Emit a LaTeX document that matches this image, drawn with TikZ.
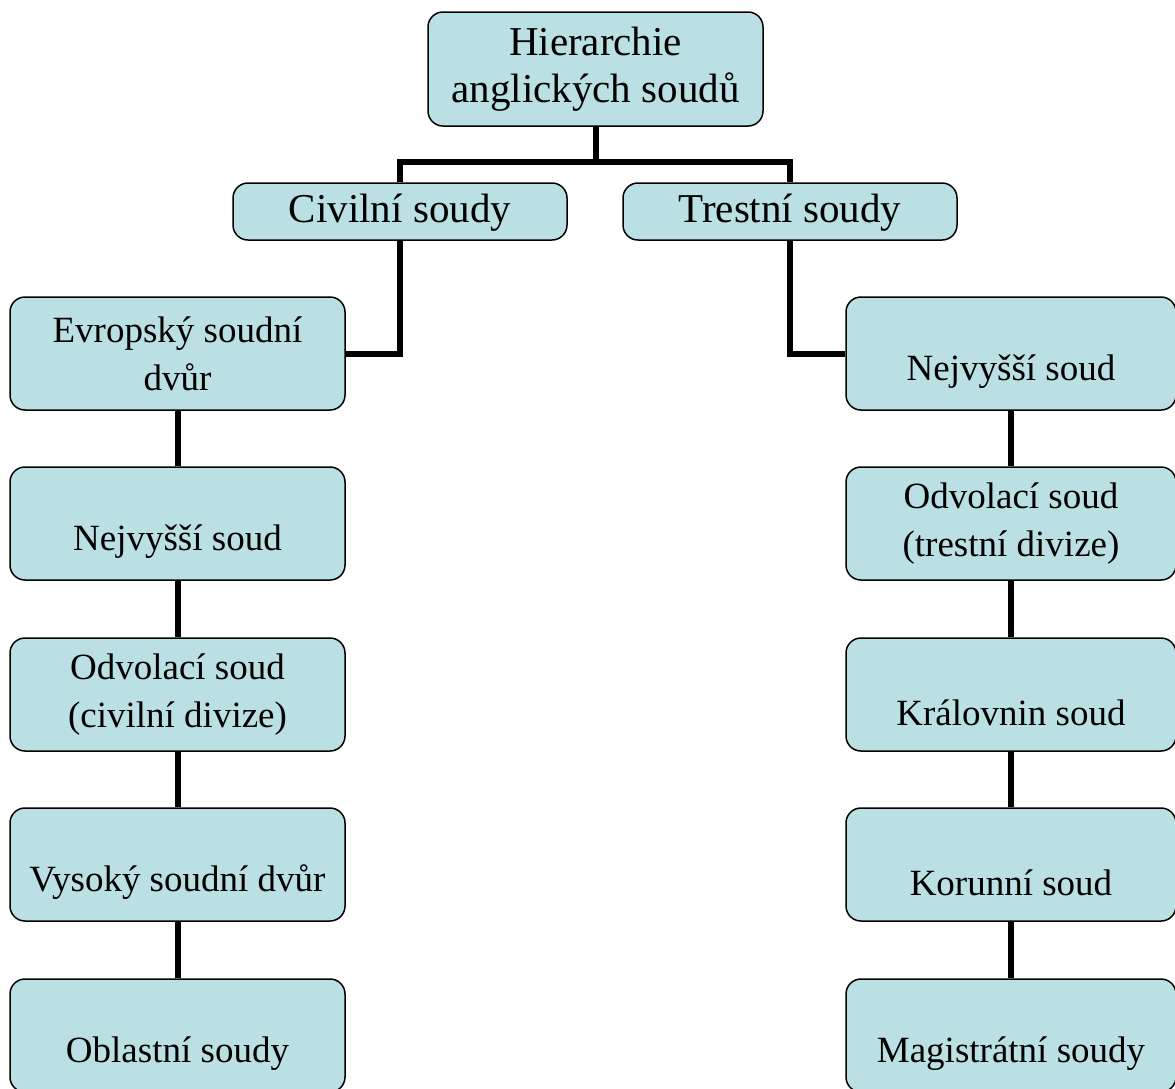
\documentclass[tikz,border=0pt]{standalone}
\usepackage{fontspec}
\setmainfont{Liberation Serif}
\usetikzlibrary{backgrounds}
\definecolor{boxfill}{RGB}{187,224,227}
\begin{document}
\begin{tikzpicture}[x=1pt,y=-1pt,
  box/.style={draw=black, line width=1.5pt, fill=boxfill, rounded corners=15pt, inner sep=0pt},
  conn/.style={draw=black, line width=6pt},
  big/.style={font=\fontsize{41}{47}\selectfont, align=center, inner sep=0pt},
  txt/.style={font=\fontsize{37}{48}\selectfont, align=center, inner sep=0pt}]
\useasboundingbox (0,0) rectangle (1175,1088);
\coordinate (bar) at (0,162);
\node[box, minimum width=335, minimum height=114] (top) at (595.5,69) {};
\node[box, minimum width=334, minimum height=57] (civ) at (400,211.5) {};
\node[box, minimum width=334, minimum height=57] (tre) at (790,211.5) {};
\foreach \i/\y in {1/353.5,2/523.5,3/694.5,4/864.5,5/1035.5}{
  \node[box, minimum width=335, minimum height=113] (l\i) at (177.5,\y) {};
  \node[box, minimum width=330, minimum height=113] (r\i) at (1011,\y) {};
}
\begin{pgfonlayer}{background}
\draw[conn] (top.south) -- (top.south |- bar);
\draw[conn] (civ.north) -- (civ.north |- bar) -- (tre.north |- bar) -- (tre.north);
\draw[conn] (civ.south) |- (l1.east);
\draw[conn] (tre.south) |- (r1.west);
\foreach \a/\b in {1/2,2/3,3/4,4/5}{
  \draw[conn] (l\a.south) -- (l\b.north);
  \draw[conn] (r\a.south) -- (r\b.north);
}
\end{pgfonlayer}
% text
\node[big] (ttop) at (top.center) {Hierarchie\\anglických soudů};
\node[big] (tciv) at ([yshift=-1]civ.center) {Civilní soudy};
\node[big] (ttre) at ([yshift=-1]tre.center) {Trestní soudy};
\node[txt] (tl1) at (l1.center) {Evropský soudní\\dvůr};
\node[txt] (tl2) at ([yshift=-18]l2.center) {Nejvyšší soud};
\node[txt] (tl3) at (l3.center) {Odvolací soud\\(civilní divize)};
\node[txt] (tl4) at ([yshift=-18]l4.center) {Vysoký soudní dvůr};
\node[txt] (tl5) at ([yshift=-18]l5.center) {Oblastní soudy};
\node[txt] (tr1) at ([yshift=-18]r1.center) {Nejvyšší soud};
\node[txt] (tr2) at (r2.center) {Odvolací soud\\(trestní divize)};
\node[txt] (tr3) at ([yshift=-18]r3.center) {Královnin soud};
\node[txt] (tr4) at ([yshift=-18]r4.center) {Korunní soud};
\node[txt] (tr5) at ([yshift=-18]r5.center) {Magistrátní soudy};
\end{tikzpicture}
\end{document}
